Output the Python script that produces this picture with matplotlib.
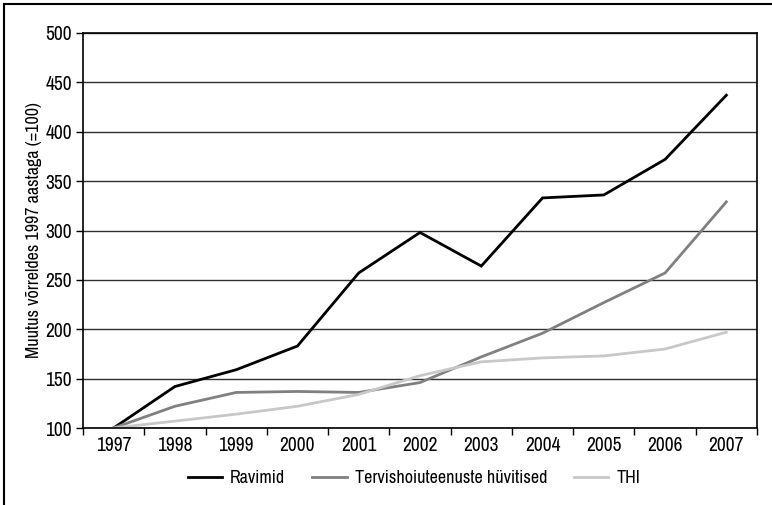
import matplotlib
matplotlib.use("Agg")
import matplotlib.pyplot as plt
from matplotlib import font_manager
from matplotlib.patches import Rectangle
import numpy as np

years = ["1997", "1998", "1999", "2000", "2001", "2002", "2003", "2004", "2005", "2006", "2007"]
ravimid = [100, 142, 159, 183, 257, 298, 264, 333, 336, 372, 437]
tervis = [100, 122, 136, 137, 136, 146, 172, 196, 227, 257, 329]
thi = [100, 107, 114, 122, 134, 153, 167, 171, 173, 180, 197]
series_names = ["Ravimid", "Tervishoiuteenuste hüvitised", "THI"]
series_colors = ["#000000", "#808080", "#c8c8c8"]

narrow = None
for f in font_manager.fontManager.ttflist:
    if 'Narrow' in f.name or 'Condensed' in f.name:
        narrow = f.name
        break
fams = ([narrow] if narrow else []) + ['Liberation Sans', 'DejaVu Sans']
plt.rcParams['font.family'] = fams
fs = 13 if narrow else 12
tfs = 14 if narrow else 12

fig = plt.figure(figsize=(7.72, 5.05), dpi=100)
ax = fig.add_axes([83/772, 1 - 428/505, (757 - 83)/772, (428 - 33)/505])

x = np.arange(len(years))
for vals, name, col in zip([ravimid, tervis, thi], series_names, series_colors):
    ax.plot(x, vals, color=col, lw=2, label=name, solid_joinstyle='miter')

ax.set_xlim(-0.5, len(years) - 0.5)
ax.set_ylim(100, 500)
ax.set_yticks(np.arange(100, 501, 50))
ax.yaxis.grid(True, color="#303030", lw=1)
ax.set_axisbelow(True)
ax.set_xticks(x)
ax.set_xticklabels(years, fontsize=tfs)
ax.set_xticks(np.arange(-0.5, len(years), 1), minor=True)
ax.tick_params(axis='x', which='major', length=0, pad=6)
ax.tick_params(axis='x', which='minor', length=5, width=1, direction='out')
ax.tick_params(axis='y', length=5, width=1, labelsize=tfs, pad=3)
for s in ax.spines.values():
    s.set_color("#000000")
    s.set_linewidth(1.2)
ax.set_ylabel("Muutus võrreldes 1997 aastaga (=100)", fontsize=fs, labelpad=2)

leg = fig.legend(loc='center', bbox_to_anchor=(414/772, 1 - 478/505), ncol=3, frameon=False,
                 fontsize=fs, handlelength=1.9, columnspacing=1.5, handletextpad=0.45)

fig.patches.append(Rectangle((4/772, -0.1), 1.2, 1 - 4/505 + 0.1, transform=fig.transFigure,
                             fill=False, edgecolor="#000000", lw=1.5))

fig.savefig("out.png", dpi=100)
